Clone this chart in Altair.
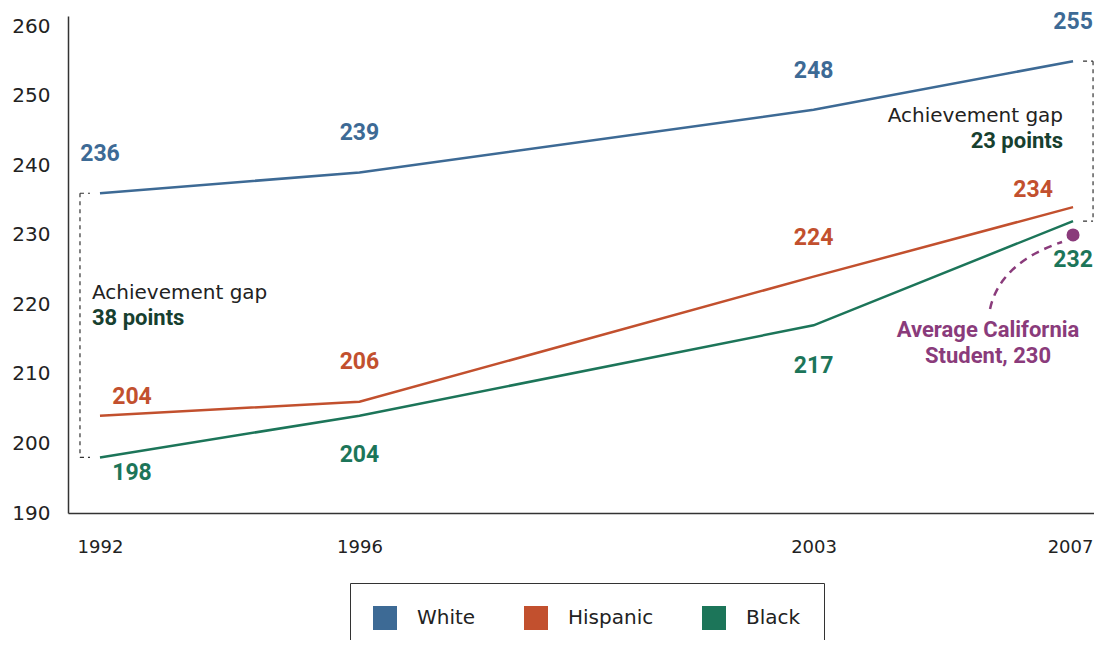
import altair as alt
import pandas as pd

# ---- data ----
years = [1992, 1996, 2003, 2007]
groups = ["White", "Hispanic", "Black"]
white = [236, 239, 248, 255]
hispanic = [204, 206, 224, 234]
black = [198, 204, 217, 232]
avg_ca_year = 2007
avg_ca = 230
y_ticks = [190, 200, 210, 220, 230, 240, 250, 260]

# ---- styling ----
colors = ["#3d6a95", "#c2502e", "#1c7559"]
purple = "#8a3b7b"
dark_green = "#17402f"
ink = "#222222"
W, H = 1026, 497
x_dom = [1991.507, 2007.323]
y_dom = [190, 261.5]
px_yr = W / (x_dom[1] - x_dom[0])
px_unit = H / (y_dom[1] - y_dom[0])

# label pixel offsets (dx, dy) per series
offsets = {
    "White": [(0, -39), (0, -39), (0, -39), (0, -39)],
    "Hispanic": [(32, -19), (0, -40), (0, -39), (-40, -17)],
    "Black": [(32, 16), (0, 39), (0, 41), (0, 39)],
}

series = {"White": white, "Hispanic": hispanic, "Black": black}
rows = []
for g in groups:
    for i, yr in enumerate(years):
        rows.append({"group": g, "year": yr, "value": series[g][i]})
df = pd.DataFrame(rows)

xs = alt.Scale(domain=x_dom, nice=False, zero=False)
ys = alt.Scale(domain=y_dom, nice=False, zero=False)
cs = alt.Scale(domain=groups, range=colors)
x_axis = alt.Axis(values=years, format="d", title=None, ticks=False, tickSize=0,
                  labelPadding=25, grid=False, labelFontSize=18,
                  labelOffset={"condition": {"test": f"datum.value === {years[-1]}", "value": -3},
                               "value": 0})
y_axis = alt.Axis(values=y_ticks, title=None, ticks=False, tickSize=0,
                  labelPadding=18, grid=False, labelFontSize=20)


def X(field):
    return alt.X(field, type="quantitative", scale=xs, axis=x_axis)


def Y(field):
    return alt.Y(field, type="quantitative", scale=ys, axis=y_axis)


base = alt.Chart(df)

legend_layer = base.mark_square(size=576, opacity=0).encode(
    x=X("year"), y=Y("value"),
    fill=alt.Fill("group:N", scale=cs, legend=alt.Legend(
        orient="none", legendX=282, legendY=567, direction="horizontal", title=None,
        symbolType="square", symbolSize=576, symbolStrokeWidth=0, symbolOpacity=1,
        labelFont="DejaVu Sans", labelFontSize=20, labelColor=ink, labelOffset=20,
        columnPadding=48, padding=23, strokeColor="#333333",
    )),
)

lines = base.mark_line(strokeWidth=2.5).encode(
    x=X("year"), y=Y("value"),
    color=alt.Color("group:N", scale=cs, legend=None),
)

label_layers = []
for g in groups:
    for i, yr in enumerate(years):
        dx, dy = offsets[g][i]
        sub = df[(df["group"] == g) & (df["year"] == yr)]
        label_layers.append(
            alt.Chart(sub).mark_text(font="Roboto", fontSize=23, fontWeight="bold",
                                     align="center", baseline="middle", dx=dx, dy=dy).encode(
                x=X("year"), y=Y("value"), text=alt.Text("value:Q"),
                color=alt.Color("group:N", scale=cs, legend=None),
            )
        )

# ---- achievement gap brackets ----
gap_l = pd.DataFrame({"year": [years[0]], "top": [white[0]], "bottom": [black[0]],
                      "mid": [(white[0] + black[0]) / 2],
                      "t1": ["Achievement gap"], "t2": [f"{white[0] - black[0]} points"]})
gap_r = pd.DataFrame({"year": [years[-1]], "top": [white[-1]], "bottom": [black[-1]],
                      "mid": [(white[-1] + black[-1]) / 2],
                      "t1": ["Achievement gap"], "t2": [f"{white[-1] - black[-1]} points"]})
ticks_l = pd.DataFrame({"year": [years[0]] * 2, "v": [white[0], black[0]]})
ticks_r = pd.DataFrame({"year": [years[-1]] * 2, "v": [white[-1], black[-1]]})

dash = dict(color="#333333", strokeWidth=1.2, strokeDash=[4, 4])
br_l_v = alt.Chart(gap_l).mark_rule(xOffset=-20, **dash).encode(
    x=X("year"), y=Y("top"), y2=alt.Y2("bottom"))
br_l_t = alt.Chart(ticks_l).mark_rule(xOffset=-20, x2Offset=-10, **dash).encode(
    x=X("year"), x2=alt.X2("year"), y=Y("v"))
br_r_v = alt.Chart(gap_r).mark_rule(xOffset=20, **dash).encode(
    x=X("year"), y=Y("top"), y2=alt.Y2("bottom"))
br_r_t = alt.Chart(ticks_r).mark_rule(xOffset=10, x2Offset=20, **dash).encode(
    x=X("year"), x2=alt.X2("year"), y=Y("v"))

gl1 = alt.Chart(gap_l).mark_text(font="DejaVu Sans", fontSize=20, color=ink, align="left",
                                 baseline="middle", dx=-8, dy=-32).encode(
    x=X("year"), y=Y("mid"), text="t1:N")
gl2 = alt.Chart(gap_l).mark_text(font="Roboto", fontSize=22, fontWeight="bold", color=dark_green,
                                 align="left", baseline="middle", dx=-8, dy=-7).encode(
    x=X("year"), y=Y("mid"), text="t2:N")
gr1 = alt.Chart(gap_r).mark_text(font="DejaVu Sans", fontSize=20, color=ink, align="right",
                                 baseline="middle", dx=-10, dy=-25).encode(
    x=X("year"), y=Y("mid"), text="t1:N")
gr2 = alt.Chart(gap_r).mark_text(font="Roboto", fontSize=22, fontWeight="bold", color=dark_green,
                                 align="right", baseline="middle", dx=-10, dy=0).encode(
    x=X("year"), y=Y("mid"), text="t2:N")

# ---- average California student ----
avg_df = pd.DataFrame({"year": [avg_ca_year], "value": [avg_ca],
                       "t1": ["Average California"], "t2": [f"Student, {avg_ca}"]})
dot = alt.Chart(avg_df).mark_circle(size=170, color=purple, opacity=1).encode(
    x=X("year"), y=Y("value"))
at1 = alt.Chart(avg_df).mark_text(font="Roboto", fontSize=22, fontWeight="bold", color=purple,
                                  align="center", baseline="middle", dx=-85, dy=95).encode(
    x=X("year"), y=Y("value"), text="t1:N")
at2 = alt.Chart(avg_df).mark_text(font="Roboto", fontSize=22, fontWeight="bold", color=purple,
                                  align="center", baseline="middle", dx=-85, dy=121).encode(
    x=X("year"), y=Y("value"), text="t2:N")

# dashed leader curve (quadratic bezier, pixel offsets from the dot)
p0, p1, p2 = (-83, 74), (-73, 28), (-11, 7)
crv = []
n = 24
for k in range(n + 1):
    t = k / n
    px = (1 - t) ** 2 * p0[0] + 2 * (1 - t) * t * p1[0] + t ** 2 * p2[0]
    py = (1 - t) ** 2 * p0[1] + 2 * (1 - t) * t * p1[1] + t ** 2 * p2[1]
    crv.append({"t": t, "cx": avg_ca_year + px / px_yr, "cy": avg_ca - py / px_unit})
curve = alt.Chart(pd.DataFrame(crv)).mark_line(color=purple, strokeWidth=2.5,
                                                strokeDash=[8, 6]).encode(
    x=X("cx"), y=Y("cy"), order="t:Q")

chart = alt.layer(
    legend_layer,
    br_l_v, br_l_t, br_r_v, br_r_t,
    lines, *label_layers,
    gl1, gl2, gr1, gr2,
    curve, dot, at1, at2,
).properties(
    width=W, height=H,
    autosize=alt.AutoSizeParams(type="none"),
    padding={"left": 60, "top": 8, "right": 0, "bottom": 127},
).configure_view(stroke=None).configure_axis(
    domainColor="#333333", domainWidth=1.5,
    labelFont="DejaVu Sans", labelColor=ink,
)

chart.save("out.html", embed_options={"renderer": "svg", "actions": False})
